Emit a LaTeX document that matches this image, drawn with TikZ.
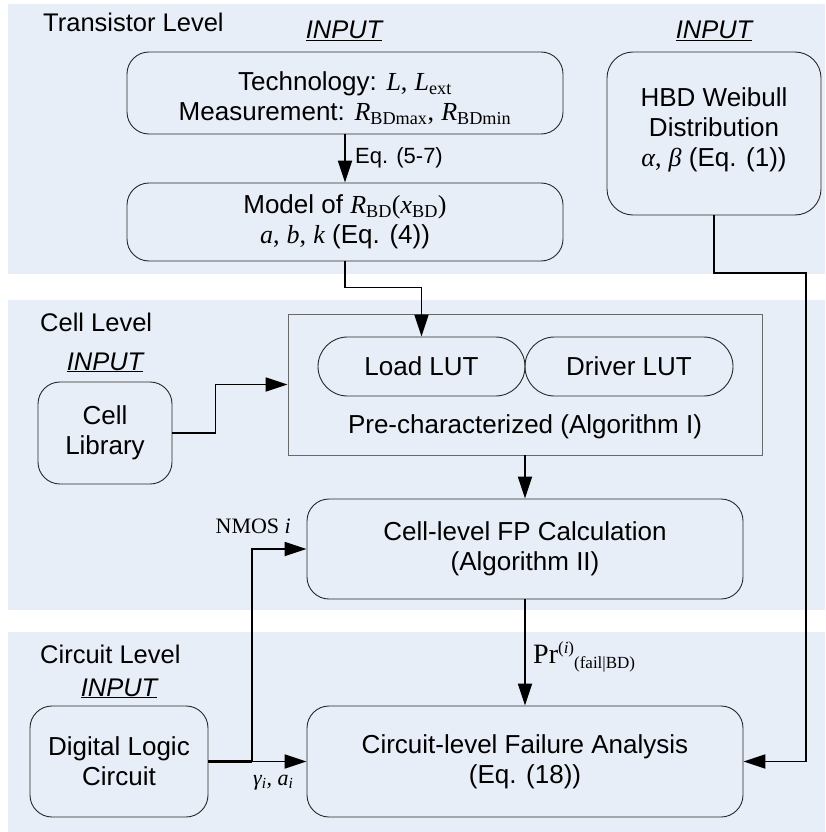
\documentclass[tikz,border=0pt]{standalone}
\usepackage{fontspec}
\setmainfont{Liberation Sans}
\newfontfamily\tms{Liberation Serif}
\usetikzlibrary{arrows.meta}
\definecolor{panel}{RGB}{232,238,247}
\definecolor{edge}{RGB}{40,40,40}
\definecolor{greyedge}{RGB}{105,105,105}
\newcommand\mv[1]{{\tms\itshape #1}}
\newcommand\tsub[1]{{\tms\textsubscript{#1}}}
\newcommand\tr[1]{{\tms #1}}
\newcommand\supr[1]{\raisebox{10pt}{\fontsize{17}{17}\selectfont #1}}
\newcommand\subr[1]{\raisebox{-5pt}{\fontsize{17}{17}\selectfont #1}}
\begin{document}
\begin{tikzpicture}[x=1pt,y=-1pt,
  txt/.style={font=\fontsize{26}{30}\selectfont, inner sep=0pt, align=center},
  box/.style={txt, draw=edge, line width=0.9pt, rounded corners=22pt},
  pill/.style={txt, draw=edge, line width=0.9pt, rounded corners=29.5pt, minimum width=207pt, minimum height=59pt},
  title/.style={font=\fontsize{25.5}{30}\selectfont, inner sep=0pt, anchor=base west},
  inp/.style={font=\fontsize{25.5}{30}\selectfont\itshape, inner sep=0pt, anchor=base},
  lbl/.style={inner sep=0pt},
  arr/.style={line width=1.8pt, -{Triangle[length=22pt,width=14pt]}},
  ln/.style={line width=1.8pt}
]
\useasboundingbox (0,0) rectangle (825,832);
% panels
\fill[panel] (8,4) rectangle (825,274);
\fill[panel] (8,300) rectangle (825,610);
\fill[panel] (8,632) rectangle (825,832);

% titles
\node[title] (tl) at (43,32) {Transistor Level};
\node[title] (cl) at (40,331) {Cell Level};
\node[title] (ccl) at (40,663) {Circuit Level};
\node[inp] (in1) at (344,39) {\underline{INPUT}};
\node[inp] (in2) at (714,39) {\underline{INPUT}};
\node[inp] (in3) at (105,370) {\underline{INPUT}};
\node[inp] (in4) at (119,696) {\underline{INPUT}};

% boxes
\node[box, minimum width=436pt, minimum height=82pt] (tech) at (345,93) {};
\node[txt] (techtxt) at (345,98)
  {Technology: \mv{L}\tr{,} \mv{L}\tsub{ext}\\
   Measurement: \mv{R}\tsub{BDmax}\tr{,} \mv{R}\tsub{BDmin}};
\node[box, minimum width=436pt, minimum height=78pt] (model) at (345,222)
  {Model of \mv{R}\tsub{BD}\tr{(}\mv{x}\tsub{BD}\tr{)}\\
   \mv{a}\tr{,} \mv{b}\tr{,} \mv{k} (Eq. (4))};
\node[box, rounded corners=26pt, minimum width=214pt, minimum height=163pt] (hbd) at (714,133.5) {};
\node[txt] (hbdtxt) at (714,130)
  {HBD Weibull\\Distribution\\\mv{α}\tr{,} \mv{β} (Eq. (1))};

\node[draw=greyedge, line width=0.9pt, minimum width=474pt, minimum height=141pt, inner sep=0pt] (prechar) at (525,384.5) {};
\node[pill] (load) at (421.5,366.5) {Load LUT};
\node[pill, minimum width=208pt] (driver) at (629,366.5) {Driver LUT};
\node[txt, anchor=base] (pctext) at (525,433) {Pre-characterized (Algorithm I)};

\node[box, minimum width=134pt, minimum height=102pt] (celllib) at (105,433) {Cell\\Library};
\node[box, minimum width=436pt, minimum height=100pt] (fp) at (525,549)
  {Cell-level FP Calculation\\(Algorithm II)};

\node[box, minimum width=178pt, minimum height=111pt] (digital) at (119,761.5) {Digital Logic\\Circuit};
\node[box, minimum width=436pt, minimum height=111pt] (circ) at (525,761.5)
  {Circuit-level Failure Analysis\\(Eq. (18))};

% connectors
\draw[arr] (tech.south) -- (model.north);
\node[lbl, anchor=west, font=\fontsize{22}{24}\selectfont] (eqlbl) at (355,158) {Eq. (5-7)};

\draw[arr] (model.south) -- ++(0,26) -| (load.north);
\draw[arr] (celllib.east) -- ++(43,0) |- (prechar.west);
\draw[arr] (prechar.south) -- (fp.north);
\draw[arr] (fp.south) -- (circ.north);
\node[lbl, anchor=base west, font=\tms\fontsize{28}{30}\selectfont] (prlbl) at (533,663)
  {Pr\supr{(\textit{i})}\subr{(fail|BD)}};

\coordinate (j) at (252,761.5);
\draw[line width=2.6pt] (digital.east) -- (j);
\draw[arr] (j) -- (circ.west);
\draw[arr] (j) |- (fp.west);
\node[lbl, anchor=base east, font=\tms\fontsize{22}{24}\selectfont] (nmos) at (291,533) {NMOS \textit{i}};
\node[lbl, anchor=base west, font=\tms\fontsize{22}{24}\selectfont\itshape] (gam) at (253,785) {γ\textsubscript{i}, a\textsubscript{i}};

\coordinate (hc) at (806,273);
\draw[arr] (hbd.south) |- (hc) |- (circ.east);
\end{tikzpicture}
\end{document}
